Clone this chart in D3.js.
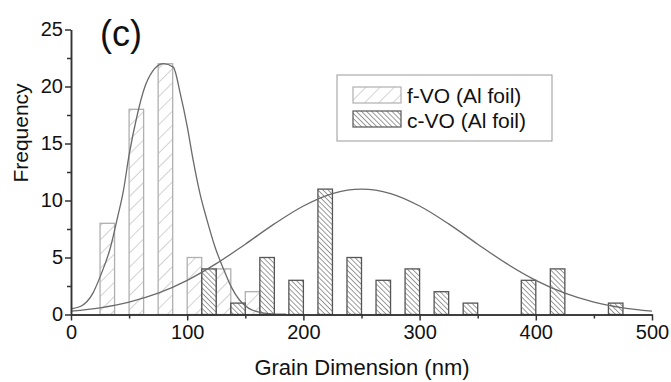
<!DOCTYPE html>
<html lang="en">
<head>
    <meta charset="UTF-8">
    <title>Grain dimension histogram</title>
    <style>
        body {
            margin: 0;
            background: #fff;
            font-family: "Liberation Sans", Arial, sans-serif;
        }
        .axis path, .axis line {
            stroke: #333;
            stroke-width: 1.5;
        }
        .axis text {
            font-family: "Liberation Sans", Arial, sans-serif;
            font-size: 20px;
            fill: #111;
        }
        .fit {
            fill: none;
            stroke: #6a6a6a;
            stroke-width: 1.3;
        }
    </style>
</head>
<body>
    <svg width="671" height="382"></svg>

    <script src="https://d3js.org/d3.v7.min.js"></script>
    <script>
        // bin centres (nm) and counts
        const fBins = [31.25, 56.25, 81.25, 106.25, 131.25, 156.25];
        const fCounts = [8, 18, 22, 5, 4, 2];
        const cBins = [118.75, 143.75, 168.75, 193.75, 218.75, 243.75, 268.75, 293.75, 318.75, 343.75, 393.75, 418.75, 468.75];
        const cCounts = [4, 1, 5, 3, 11, 5, 3, 4, 2, 1, 3, 4, 1];
        const binWidth = 12.5;

        // fitted curves
        const fFitX = [0, 8, 19, 25, 34, 40, 45, 50, 57, 63, 70, 79.5, 88, 94, 100, 105, 111, 117, 124, 131, 138, 145, 153, 160, 170, 185];
        const fFitY = [0.5, 0.7, 1.9, 3.3, 5.9, 8.5, 10.8, 14, 17.5, 19.8, 21.3, 22, 21.7, 19.4, 16.5, 13.6, 10.6, 8.3, 5.9, 4.05, 2.4, 1.27, 0.54, 0.25, 0.08, 0.02];
        const cFitX = [0, 25, 50, 75, 100, 125, 150, 175, 200, 225, 250, 275, 300, 325, 350, 375, 400, 425, 450, 475, 500];
        const cFitY = [0.3, 0.59, 1.09, 1.87, 3.0, 4.46, 6.17, 7.95, 9.52, 10.61, 11.0, 10.61, 9.52, 7.95, 6.17, 4.46, 3.0, 1.87, 1.09, 0.59, 0.3];

        const xTicks = [0, 100, 200, 300, 400, 500];
        const xMinor = [50, 150, 250, 350, 450];
        const yTicks = [0, 5, 10, 15, 20, 25];
        const yMinor = [2.5, 7.5, 12.5, 17.5, 22.5];
        const seriesNames = ["f-VO (Al foil)", "c-VO (Al foil)"];

        const svg = d3.select("svg");

        const x = d3.scaleLinear().domain([0, 500]).range([71, 652]);
        const y = d3.scaleLinear().domain([0, 25]).range([314.5, 29.5]);

        // hatch patterns
        const defs = svg.append("defs");
        defs.append("pattern")
            .attr("id", "hatchF")
            .attr("patternUnits", "userSpaceOnUse")
            .attr("width", 10).attr("height", 10)
            .attr("patternTransform", "rotate(45)")
            .append("line")
            .attr("x1", 0).attr("y1", 0).attr("x2", 0).attr("y2", 10)
            .attr("stroke", "#b4b4b4").attr("stroke-width", 1.2);
        defs.append("pattern")
            .attr("id", "hatchC")
            .attr("patternUnits", "userSpaceOnUse")
            .attr("width", 3.6).attr("height", 3.6)
            .attr("patternTransform", "rotate(-45)")
            .append("line")
            .attr("x1", 0).attr("y1", 0).attr("x2", 0).attr("y2", 3.6)
            .attr("stroke", "#4a4a4a").attr("stroke-width", 1.1);

        // bars
        const fData = fBins.map((b, i) => ({ b, v: fCounts[i] }));
        const cData = cBins.map((b, i) => ({ b, v: cCounts[i] }));

        svg.append("g").selectAll("rect")
            .data(fData)
            .enter().append("rect")
            .attr("x", d => x(d.b - binWidth / 2))
            .attr("width", d => x(d.b + binWidth / 2) - x(d.b - binWidth / 2))
            .attr("y", d => y(d.v))
            .attr("height", d => y(0) - y(d.v))
            .attr("fill", "url(#hatchF)")
            .attr("stroke", "#b0b0b0")
            .attr("stroke-width", 1.3);

        svg.append("g").selectAll("rect")
            .data(cData)
            .enter().append("rect")
            .attr("x", d => x(d.b - binWidth / 2))
            .attr("width", d => x(d.b + binWidth / 2) - x(d.b - binWidth / 2))
            .attr("y", d => y(d.v))
            .attr("height", d => y(0) - y(d.v))
            .attr("fill", "url(#hatchC)")
            .attr("stroke", "#555")
            .attr("stroke-width", 1.3);

        // fit curves
        const line = d3.line()
            .x(d => x(d[0]))
            .y(d => y(d[1]))
            .curve(d3.curveMonotoneX);

        svg.append("path").attr("class", "fit")
            .attr("d", line(fFitX.map((v, i) => [v, fFitY[i]])));
        svg.append("path").attr("class", "fit")
            .attr("d", line(cFitX.map((v, i) => [v, cFitY[i]])));

        // axes
        svg.append("g").attr("class", "axis")
            .attr("transform", `translate(0,${y(0)})`)
            .call(d3.axisBottom(x).tickValues(xTicks).tickSize(6).tickSizeOuter(0).tickPadding(4));
        svg.append("g").attr("class", "axis")
            .attr("transform", `translate(0,${y(0)})`)
            .call(d3.axisBottom(x).tickValues(xMinor).tickSize(4).tickSizeOuter(0).tickFormat(""));

        svg.append("g").attr("class", "axis")
            .attr("transform", `translate(${x(0)},0)`)
            .call(d3.axisLeft(y).tickValues(yTicks).tickSize(6).tickSizeOuter(0).tickPadding(2));
        svg.append("g").attr("class", "axis")
            .attr("transform", `translate(${x(0)},0)`)
            .call(d3.axisLeft(y).tickValues(yMinor).tickSize(4).tickSizeOuter(0).tickFormat(""));

        // titles
        svg.append("text")
            .attr("x", 362).attr("y", 375)
            .attr("text-anchor", "middle")
            .attr("font-size", 22)
            .attr("fill", "#111")
            .text("Grain Dimension (nm)");

        svg.append("text")
            .attr("transform", "translate(28,133) rotate(-90)")
            .attr("text-anchor", "middle")
            .attr("font-size", 21)
            .attr("fill", "#111")
            .text("Frequency");

        svg.append("text")
            .attr("x", 100).attr("y", 46)
            .attr("font-size", 36)
            .attr("fill", "#111")
            .text("(c)");

        // legend
        const legend = svg.append("g");
        legend.append("rect")
            .attr("x", 337).attr("y", 75)
            .attr("width", 215).attr("height", 66)
            .attr("fill", "#fff")
            .attr("stroke", "#999")
            .attr("stroke-width", 1);
        const fills = ["url(#hatchF)", "url(#hatchC)"];
        const strokes = ["#b0b0b0", "#555"];
        seriesNames.forEach((name, i) => {
            legend.append("rect")
                .attr("x", 353).attr("y", 87 + i * 24)
                .attr("width", 48).attr("height", 16)
                .attr("fill", fills[i])
                .attr("stroke", strokes[i])
                .attr("stroke-width", 1.2);
            legend.append("text")
                .attr("x", 407).attr("y", 103 + i * 25)
                .attr("font-size", 21)
                .attr("fill", "#111")
                .text(name);
        });
    </script>
</body>
</html>
